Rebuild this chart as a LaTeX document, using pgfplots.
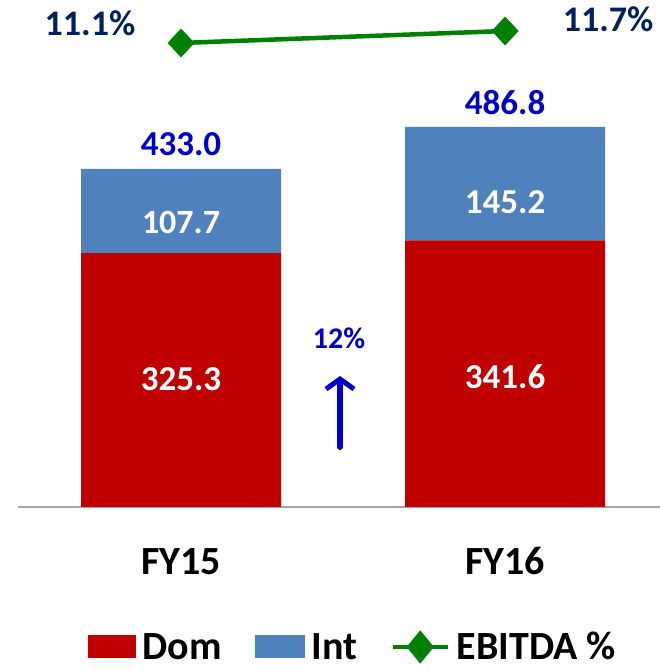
\documentclass[border=0pt]{standalone}
\usepackage{pgfplots}
\pgfplotsset{compat=1.18}
\usepackage{fontspec}
\setmainfont{Carlito}
\usetikzlibrary{arrows.meta}
\definecolor{dom}{HTML}{C00000}
\definecolor{intc}{HTML}{4F81BD}
\definecolor{eb}{HTML}{008000}
\definecolor{tot}{HTML}{0000CC}
\definecolor{navy}{HTML}{002060}
\newcommand\fs[1]{\bfseries\fontsize{#1}{#1}\selectfont}
\pgfplotsset{frame/.style={at={(18pt,164pt)}, anchor=south west, scale only axis,
  width=642pt, height=507pt, xmin=-0.503, xmax=1.478, clip=false}}
\begin{document}
\begin{tikzpicture}
\useasboundingbox (0,0) rectangle (660pt,671pt);
\begin{axis}[
  frame, ymin=0, ymax=649.5,
  ybar stacked, bar width=200pt,
  axis x line*=bottom, axis y line=none,
  axis line style={-, draw=black!35, line width=2pt},
  xtick={0,1}, xticklabels={FY15,FY16}, major tick length=0pt,
  xticklabel style={font=\fs{40}, inner sep=0pt, anchor=base, yshift=-67pt},
  legend style={at={(0.520,-0.276)}, anchor=center, draw=none, fill=none,
    legend columns=3, font=\fs{40}, nodes={inner sep=0pt},
    /tikz/every odd column/.append style={column sep=7pt},
    /tikz/every even column/.append style={column sep=33pt}},
  legend cell align=left,
]
\addplot[fill=dom, draw=none,
  legend image code/.code={\fill[dom] (0pt,-11.5pt) rectangle (48pt,11.5pt);}]
  coordinates {(0,325.3) (1,341.6)};
\addplot[fill=intc, draw=none,
  legend image code/.code={\fill[intc] (0pt,-11.5pt) rectangle (50pt,11.5pt);}]
  coordinates {(0,107.7) (1,145.2)};
\addlegendimage{eb, line width=4pt,
  legend image code/.code={\draw[eb, line width=4.5pt] (0pt,0pt) -- (55pt,0pt);
    \fill[eb] (27.5pt,-13.5pt) -- (38.5pt,0pt) -- (27.5pt,13.5pt) -- (16.5pt,0pt) -- cycle;}}
\legend{Dom, Int, EBITDA \%}
\end{axis}
\begin{axis}[frame, ymin=0, ymax=649.5, hide axis]
\node[font=\fs{35}, text=tot, anchor=base, inner sep=0pt, yshift=13pt] at (axis cs:0,433.0) {433.0};
\node[font=\fs{35}, text=tot, anchor=base, inner sep=0pt, yshift=12pt] at (axis cs:1,486.8) {486.8};
\node[font=\fs{34}, text=white, anchor=base, inner sep=0pt] at (axis cs:0,351.0) {107.7};
\node[font=\fs{35}, text=white, anchor=base, inner sep=0pt] at (axis cs:1,376.6) {145.2};
\node[font=\fs{35}, text=white, anchor=base, inner sep=0pt] at (axis cs:0,148.6) {325.3};
\node[font=\fs{35}, text=white, anchor=base, inner sep=0pt] at (axis cs:1,151.2) {341.6};
\end{axis}
\begin{axis}[frame, ymin=-12.1, ymax=13.25, hide axis]
\addplot[eb, line width=4.5pt, mark=diamond*, mark size=14pt, mark options={solid, xscale=1.25, line width=0.5pt}]
  coordinates {(0,11.1) (1,11.7)};
\node[font=\fs{36}, text=navy, anchor=base, inner sep=0pt, xshift=-91pt, yshift=7pt] at (axis cs:0,11.1) {11.1\%};
\node[font=\fs{36}, text=navy, anchor=base, inner sep=0pt, xshift=103pt, yshift=-1pt] at (axis cs:1,11.7) {11.7\%};
\end{axis}
\draw[tot, line width=6pt, line cap=round, -{Straight Barb[length=10pt, width=28pt, line width=5pt]}] (340pt,224pt) -- (340pt,295pt);
\node[font=\fs{30}, text=tot, anchor=base, inner sep=0pt] at (339pt,322pt) {12\%};
\end{tikzpicture}
\end{document}
